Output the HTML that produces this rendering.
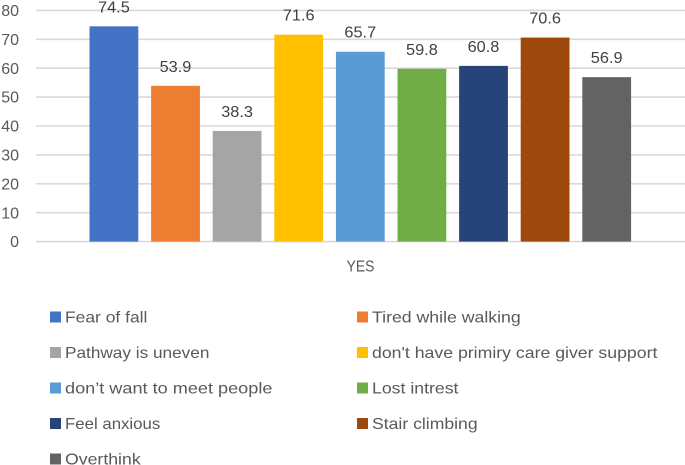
<!DOCTYPE html>
<html>
<head>
<meta charset="utf-8">
<style>
html,body{margin:0;padding:0;background:#fff;width:685px;height:465px;overflow:hidden}
svg{display:block;font-family:"Liberation Sans",sans-serif}
</style>
</head>
<body>
<svg id="chart" xmlns="http://www.w3.org/2000/svg" width="685" height="465" viewBox="0 0 685 465"></svg>
<script>
const categories = ["Fear of fall","Tired while walking","Pathway is uneven","don't have primiry care giver support","don\u2019t want to meet people","Lost intrest","Feel anxious","Stair climbing","Overthink"];
const seriesValues = [74.5,53.9,38.3,71.6,65.7,59.8,60.8,70.6,56.9];
const valueLabels = ["74.5","53.9","38.3","71.6","65.7","59.8","60.8","70.6","56.9"];
const colors = ["#4472c4","#ed7d31","#a5a5a5","#ffc000","#5b9bd5","#70ad47","#264478","#9e480e","#636363"];
const yTicks = [0,10,20,30,40,50,60,70,80];
const xCategory = "YES";
const legendFit = [1.09,1.105,1.075,1.105,1.132,1.105,1.05,1.1,1.105];

const svg = document.getElementById('chart');
const NS = 'http://www.w3.org/2000/svg';
const plotLeft = 36, plotRight = 685, y0 = 241.6, y80 = 10.4;
const firstBar = 89.5, barStep = 61.6, barWidth = 48.8;
const yScale = v => y0 - (v / 80) * (y0 - y80);
const xScale = i => firstBar + i * barStep;

function make(tag, attrs, text) {
  const el = document.createElementNS(NS, tag);
  for (const k in attrs) el.setAttribute(k, attrs[k]);
  if (text !== undefined) el.textContent = text;
  svg.appendChild(el);
  return el;
}

function stretch(el, factor) {
  const len = el.getComputedTextLength();
  el.setAttribute('textLength', (len * factor).toFixed(2));
  el.setAttribute('lengthAdjust', 'spacingAndGlyphs');
}

yTicks.forEach(t => {
  const line = make('line', {x1: plotLeft, x2: plotRight, y1: yScale(t), y2: yScale(t), stroke: '#d9d9d9', 'stroke-width': 1.6});
  
  
  const label = make('text', {x: 19, y: yScale(t) + 5.6, 'text-anchor': 'end', 'font-size': 16, fill: '#595959'}, String(t));
  
  
});

seriesValues.forEach((v, i) => {
  const bar = make('rect', {x: xScale(i), y: yScale(v), width: barWidth, height: y0 - yScale(v), fill: colors[i]});
  
  
  const label = make('text', {x: xScale(i) + barWidth / 2, y: yScale(v) - 14, 'text-anchor': 'middle', 'font-size': 16, fill: '#404040'}, valueLabels[i]);
  
  
  stretch(label, 1.02);
});

const xLabel = make('text', {x: 360.5, y: 271.6, 'text-anchor': 'middle', 'font-size': 15.5, fill: '#595959'}, xCategory);


stretch(xLabel, 0.9);

categories.forEach((name, i) => {
  const col = i % 2, row = Math.floor(i / 2);
  const sx = col === 0 ? 50 : 357;
  const cy = 317 + row * 35.5;
  const swatch = make('rect', {x: sx, y: cy - 5.5, width: 11, height: 11, fill: colors[i]});
  
  
  const label = make('text', {x: sx + 15, y: cy + 5.5, 'font-size': 16, fill: '#595959'}, name);
  
  
  stretch(label, legendFit[i]);
});
</script>
</body>
</html>
